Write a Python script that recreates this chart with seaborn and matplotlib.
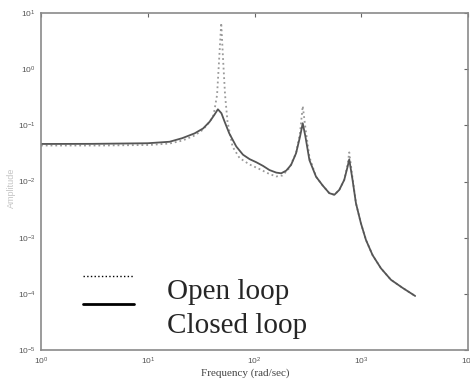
import matplotlib
matplotlib.use("Agg")
import matplotlib.pyplot as plt
from matplotlib.lines import Line2D
from matplotlib.legend_handler import HandlerLine2D
import matplotlib.ticker as mticker
import seaborn as sns
import pandas as pd

# ---- data (frequency in rad/sec, amplitude) ----
closed_freq = [1, 3, 10, 16, 21, 27.5, 33, 38, 42, 45.4, 49, 52.5, 58, 67.5, 78, 90,
               104, 120, 138, 160, 178, 198, 220, 245, 267, 283, 300, 327, 377, 435,
               502, 560, 623, 693, 745, 772, 829, 892, 993, 1107, 1276, 1529, 1896,
               2434, 3200]
closed_amp = [0.0466, 0.0468, 0.048, 0.051, 0.059, 0.072, 0.088, 0.116, 0.153, 0.193,
              0.164, 0.116, 0.072, 0.042, 0.030, 0.025, 0.022, 0.019, 0.016, 0.0144,
              0.0140, 0.0156, 0.0197, 0.0318, 0.063, 0.109, 0.063, 0.024, 0.0122,
              0.0085, 0.0062, 0.0058, 0.0071, 0.0107, 0.0184, 0.0248, 0.01065, 0.0041,
              0.0018, 0.00091, 0.00049, 0.000285, 0.000178, 0.000128, 0.0000916]

open_freq = [1, 3.56, 10.4, 16.1, 21.2, 27.5, 32.6, 38, 41.4, 44.6, 46.6, 48.8, 50.8,
             53, 55.9, 62.3, 72.4, 89.8, 111, 138, 160, 183, 212, 245, 267, 283, 300,
             327, 377, 435, 502, 560, 623, 693, 745, 772, 829, 892, 993, 1107, 1276,
             1529, 1896, 2434, 3200]
open_amp = [0.0437, 0.0437, 0.0447, 0.0475, 0.0537, 0.0659, 0.0826, 0.115, 0.153,
            0.347, 1.46, 6.64, 1.46, 0.347, 0.115, 0.0417, 0.0262, 0.0201, 0.0167,
            0.0136, 0.0123, 0.0128, 0.0174, 0.0322, 0.0731, 0.221, 0.0897, 0.0273,
            0.0122, 0.0085, 0.0062, 0.0058, 0.0071, 0.0107, 0.0200, 0.033, 0.0115,
            0.0041, 0.0018, 0.00091, 0.00049, 0.000285, 0.000178, 0.000128, 0.0000916]

legend_labels = ["Open loop", "Closed loop"]
x_label = "Frequency (rad/sec)"
y_label = "Amplitude"

# ---- styling ----
sns.set_style("white")
plt.rcParams["font.family"] = ["Liberation Sans", "DejaVu Sans"]
plt.rcParams["mathtext.default"] = "regular"

fig = plt.figure(figsize=(4.7, 3.9), dpi=100)
ax = fig.add_axes([41 / 470, 1 - 350 / 390, 427 / 470, 337 / 390])

df_closed = pd.DataFrame({"f": closed_freq, "a": closed_amp})
df_open = pd.DataFrame({"f": open_freq, "a": open_amp})

sns.lineplot(data=df_open, x="f", y="a", ax=ax, color="#9a9a9a", linestyle=":",
             linewidth=1.3, sort=False, estimator=None)
sns.lineplot(data=df_closed, x="f", y="a", ax=ax, color="#555555", linestyle="-",
             linewidth=1.3, sort=False, estimator=None)

ax.set_xscale("log")
ax.set_yscale("log")
ax.set_xlim(1, 1e4)
ax.set_ylim(1e-5, 1e1)
ax.xaxis.set_major_locator(mticker.LogLocator(base=10, numticks=10))
ax.yaxis.set_major_locator(mticker.LogLocator(base=10, numticks=10))
ax.xaxis.set_minor_locator(mticker.NullLocator())
ax.yaxis.set_minor_locator(mticker.NullLocator())

for s in ax.spines.values():
    s.set_visible(True)
    s.set_color("#8a8a8a")
    s.set_linewidth(1.2)

ax.tick_params(axis="both", which="major", direction="in", length=3, width=0.8,
               color="#666666", labelsize=6, labelcolor="#555555",
               top=True, right=True, pad=4)

ax.set_xlabel(x_label, family=["Liberation Serif", "DejaVu Serif"], fontsize=8,
              color="#444444")
ax.xaxis.set_label_coords(0.478, -0.055)
ax.set_ylabel(y_label, fontsize=6.5, color="#c4c4c4")
ax.yaxis.set_label_coords(-0.058, 0.48)


class ShiftedLine(HandlerLine2D):
    """Legend line handler that raises the sample line above the text centre."""
    def __init__(self, dy, **kw):
        super().__init__(**kw)
        self.dy = dy

    def create_artists(self, legend, orig_handle, xdescent, ydescent, width,
                       height, fontsize, trans):
        arts = super().create_artists(legend, orig_handle, xdescent, ydescent,
                                      width, height, fontsize, trans)
        for a in arts:
            a.set_ydata([y + self.dy for y in a.get_ydata()])
        return arts


h_open = Line2D([], [], color="black", linestyle=":", linewidth=1.0)
h_closed = Line2D([], [], color="black", linestyle="-", linewidth=2.0)
ax.legend([h_open, h_closed], legend_labels, loc="center left",
          bbox_to_anchor=(0.098, 0.123), frameon=False,
          prop={"family": "Liberation Serif", "size": 21},
          handlelength=1.75, handletextpad=1.15, labelspacing=0.25,
          borderpad=0, borderaxespad=0,
          handler_map={h_open: ShiftedLine(9), h_closed: ShiftedLine(13)})

fig.savefig("out.png", dpi=100)
